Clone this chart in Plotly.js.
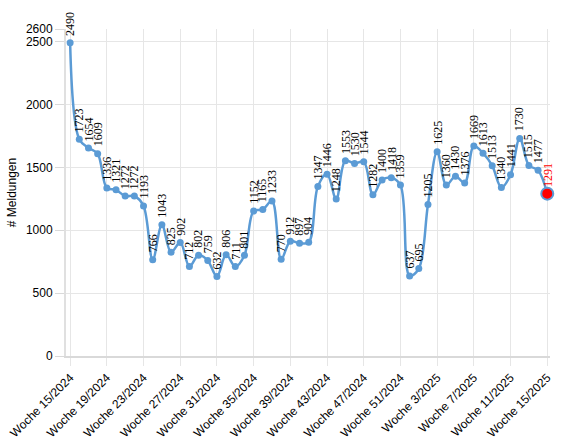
<!DOCTYPE html>
<html>
<head>
<meta charset="utf-8">
<script src="https://cdn.plot.ly/plotly-3.0.1.min.js"></script>
<style>html,body{margin:0;padding:0;background:#fff}#chart{width:561px;height:443px}</style>
</head>
<body>
<div id="chart"></div>
<script>
const weeks = [
  "Woche 15/2024","Woche 16/2024","Woche 17/2024","Woche 18/2024","Woche 19/2024","Woche 20/2024",
  "Woche 21/2024","Woche 22/2024","Woche 23/2024","Woche 24/2024","Woche 25/2024","Woche 26/2024",
  "Woche 27/2024","Woche 28/2024","Woche 29/2024","Woche 30/2024","Woche 31/2024","Woche 32/2024",
  "Woche 33/2024","Woche 34/2024","Woche 35/2024","Woche 36/2024","Woche 37/2024","Woche 38/2024",
  "Woche 39/2024","Woche 40/2024","Woche 41/2024","Woche 42/2024","Woche 43/2024","Woche 44/2024",
  "Woche 45/2024","Woche 46/2024","Woche 47/2024","Woche 48/2024","Woche 49/2024","Woche 50/2024",
  "Woche 51/2024","Woche 52/2024","Woche 1/2025","Woche 2/2025","Woche 3/2025","Woche 4/2025",
  "Woche 5/2025","Woche 6/2025","Woche 7/2025","Woche 8/2025","Woche 9/2025","Woche 10/2025",
  "Woche 11/2025","Woche 12/2025","Woche 13/2025","Woche 14/2025","Woche 15/2025"
];
const meldungen = [
  2490,1723,1654,1609,1336,1321,1272,1272,1193,766,1043,825,902,712,802,759,632,806,711,801,
  1152,1165,1233,770,912,897,904,1347,1446,1248,1553,1530,1544,1282,1400,1418,1359,637,695,1205,
  1625,1360,1430,1376,1669,1613,1513,1340,1441,1730,1515,1477,1291
];
const tickWeeks = [
  "Woche 15/2024","Woche 19/2024","Woche 23/2024","Woche 27/2024","Woche 31/2024","Woche 35/2024",
  "Woche 39/2024","Woche 43/2024","Woche 47/2024","Woche 51/2024","Woche 3/2025","Woche 7/2025",
  "Woche 11/2025","Woche 15/2025"
];
const yTicks = [0,500,1000,1500,2000,2500,2600];

const lineColor = '#5b9bd5';
const lastIdx = meldungen.length - 1;

const traces = [
  {
    x: weeks, y: meldungen, type: 'scatter', mode: 'lines+markers',
    line: {color: lineColor, width: 2.5, shape: 'spline', smoothing: 1},
    marker: {color: lineColor, size: 7},
    hoverinfo: 'x+y', cliponaxis: false
  },
  {
    x: [weeks[lastIdx]], y: [meldungen[lastIdx]], type: 'scatter', mode: 'markers',
    marker: {color: '#ff0000', size: 12, line: {color: lineColor, width: 2}},
    hoverinfo: 'skip', cliponaxis: false
  }
];

const annotations = meldungen.map((v, i) => ({
  x: weeks[i], y: v, xref: 'x', yref: 'y',
  text: String(v), showarrow: false, textangle: -90,
  xanchor: 'center', yanchor: 'bottom', yshift: 5,
  font: {family: '"Liberation Serif", "Times New Roman", serif', size: 12,
         color: i === lastIdx ? '#ff0000' : '#000000'}
}));

const layout = {
  width: 561, height: 443,
  margin: {l: 66, r: 11, t: 29, b: 87, pad: 0},
  paper_bgcolor: '#ffffff', plot_bgcolor: '#ffffff',
  showlegend: false,
  font: {family: '"Liberation Sans", Arial, sans-serif', size: 12, color: '#000'},
  xaxis: {
    type: 'category', categoryorder: 'array', categoryarray: weeks,
    range: [-0.45, lastIdx + 0.3],
    tickmode: 'array', tickvals: tickWeeks, ticktext: tickWeeks,
    tickangle: -45, ticks: 'outside', ticklen: 8, tickcolor: '#e6e6e6', tickwidth: 1,
    showgrid: true, gridcolor: '#e6e6e6', gridwidth: 1,
    showline: true, linecolor: '#d9d9d9', linewidth: 2,
    zeroline: false, tickfont: {size: 12, color: '#000'}, automargin: false
  },
  yaxis: {
    range: [0, 2600], tickmode: 'array', tickvals: yTicks, ticktext: yTicks.map(String),
    ticks: 'outside', ticklen: 9, tickcolor: '#d9d9d9', tickwidth: 1,
    showgrid: true, gridcolor: '#e6e6e6', gridwidth: 1,
    showline: true, linecolor: '#e0e0e0', linewidth: 2,
    zeroline: false, tickfont: {size: 12, color: '#000'},
    title: {text: '# Meldungen', font: {size: 12, color: '#000'}, standoff: 7},
    automargin: false
  },
  annotations: annotations
};

Plotly.newPlot('chart', traces, layout, {displayModeBar: false, staticPlot: true});
</script>
</body>
</html>
